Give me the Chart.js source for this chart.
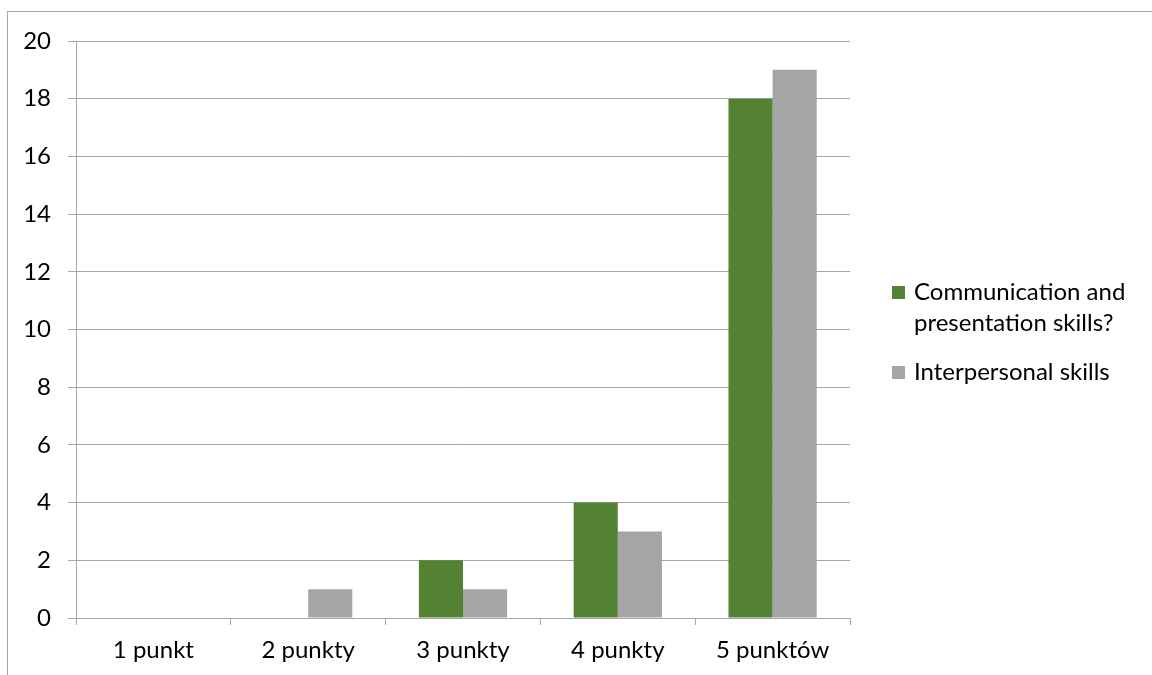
<!DOCTYPE html>
<html><head><meta charset="utf-8">
<script src="https://cdn.jsdelivr.net/npm/chart.js@4/dist/chart.umd.min.js"></script>
<style>html,body{margin:0;padding:0;background:#fff;}#wrap{width:1152px;height:675px;position:relative;}</style>
</head><body><div id="wrap"><canvas id="c" width="1152" height="675"></canvas></div>
<script>
const categories = ["1 punkt", "2 punkty", "3 punkty", "4 punkty", "5 punktów"];
const seriesNames = ["Communication and presentation skills?", "Interpersonal skills"];
const legendLines = [["Communication and", "presentation skills?"], ["Interpersonal skills"]];
const communication = [0, 0, 2, 4, 18];
const interpersonal = [0, 1, 1, 3, 19];
const yTicks = [0, 2, 4, 6, 8, 10, 12, 14, 16, 18, 20];

const FONT = "Lato";
const FSIZE = 24;
const GRID = "#a6a6a6";

const frame = {
  id: "frame",
  beforeDraw(chart) {
    const ctx = chart.ctx;
    ctx.save();
    ctx.fillStyle = "#fff";
    ctx.fillRect(0, 0, chart.width, chart.height);
    ctx.strokeStyle = "#a6a6a6";
    ctx.lineWidth = 1;
    ctx.strokeRect(7.5, 11.5, 1300, 800);
    ctx.restore();
  },
  afterDraw(chart) {
    const ctx = chart.ctx;
    ctx.save();
    ctx.font = FSIZE + "px " + FONT;
    ctx.textBaseline = "middle";
    let y = 292;
    chart.data.datasets.forEach((ds, i) => {
      ctx.fillStyle = ds.backgroundColor;
      ctx.fillRect(892, y - 6, 13, 13);
      ctx.fillStyle = "#000";
      legendLines[i].forEach((t) => {
        ctx.fillText(t, 914, y);
        y += 31;
      });
      y += 18;
    });
    ctx.restore();
  }
};

new Chart(document.getElementById("c"), {
  type: "bar",
  data: {
    labels: categories,
    datasets: [
      { label: seriesNames[0], data: communication, backgroundColor: "#548235", borderWidth: 0 },
      { label: seriesNames[1], data: interpersonal, backgroundColor: "#a5a5a5", borderWidth: 0 }
    ]
  },
  options: {
    responsive: false,
    animation: false,
    devicePixelRatio: 1,
    layout: { padding: { left: 0, top: 41, right: 302, bottom: 0 } },
    plugins: { legend: { display: false }, tooltip: { enabled: false } },
    datasets: { bar: { categoryPercentage: 0.57, barPercentage: 1.0 } },
    scales: {
      x: {
        grid: { display: true, drawOnChartArea: false, offset: true, color: GRID, tickLength: 7, tickColor: GRID },
        border: { display: true, color: GRID },
        ticks: { font: { family: FONT, size: FSIZE }, color: "#000", padding: 11 },
        afterFit(s) { s.height = 57; }
      },
      y: {
        min: 0, max: 20,
        afterBuildTicks(s) { s.ticks = yTicks.map(v => ({ value: v })); },
        grid: { color: GRID, tickLength: 8, tickColor: GRID },
        border: { display: true, color: GRID },
        ticks: { font: { family: FONT, size: FSIZE }, color: "#000", padding: 17 },
        afterFit(s) { s.width = 76; }
      }
    }
  },
  plugins: [frame]
});
</script></body></html>
